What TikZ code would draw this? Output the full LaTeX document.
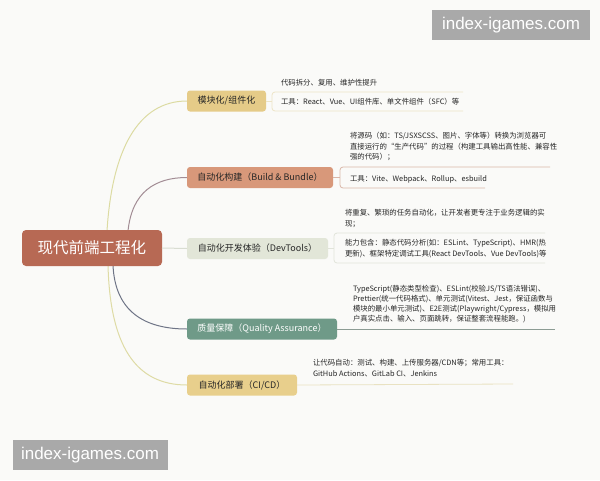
\documentclass[tikz,border=0pt]{standalone}
\usepackage{fontspec}
\setmainfont{Noto Sans CJK SC}
\newfontfamily\wmfont{Liberation Sans}
\usetikzlibrary{backgrounds}
\definecolor{bgc}{HTML}{FAFAF8}
\definecolor{cmain}{HTML}{B76954}
\definecolor{cb1}{HTML}{E5CB88}
\definecolor{cb2}{HTML}{D8987A}
\definecolor{cb3}{HTML}{E2E6D8}
\definecolor{cb4}{HTML}{6F9A88}
\definecolor{cb5}{HTML}{E8CF8C}
\definecolor{k1}{HTML}{DCDBA2}
\definecolor{k2}{HTML}{A28C94}
\definecolor{k3}{HTML}{D9DDD2}
\definecolor{k4}{HTML}{6E7486}
\definecolor{k5}{HTML}{DEDBA5}
\definecolor{l1}{HTML}{EDE4C6}
\definecolor{l2}{HTML}{D9B6A8}
\definecolor{l3}{HTML}{E1E4DA}
\definecolor{l4}{HTML}{8C9C94}
\definecolor{l5}{HTML}{E9E2C2}
\definecolor{txt}{HTML}{262626}
\definecolor{wmc}{HTML}{A9A9A9}
\begin{document}
\begin{tikzpicture}[x=1pt,y=-1pt,
  every node/.style={inner sep=0pt, outer sep=0pt},
  mainbox/.style={fill=cmain, rounded corners=4pt, minimum width=140pt, minimum height=36pt, text=white, font=\fontsize{15.5}{18}\selectfont},
  branchbox/.style={rounded corners=3pt, minimum height=21pt, anchor=west, text=txt, font=\fontsize{9}{11}\selectfont},
  detail/.style={anchor=west, text=txt, font=\fontsize{7.4}{10.5}\selectfont, align=left},
  detailm/.style={anchor=north west, text=txt, font=\fontsize{7.4}{10.8}\selectfont, align=left},
  curve/.style={line width=1pt},
  brk/.style={line width=0.8pt, rounded corners=3pt},
  wmbox/.style={fill=wmc, minimum height=30pt, text=white, font=\wmfont\fontsize{17}{20}\selectfont}
]
\useasboundingbox (0,0) rectangle (600,480);

% central node
\node[mainbox] (c) at (92,248) {现代前端工程化};

% branch boxes
\node[branchbox, fill=cb1, minimum width=79pt] (b1) at (187,101) {模块化/组件化};
\node[branchbox, fill=cb2, minimum width=146pt] (b2) at (187,177.5) {自动化构建（Build \& Bundle）};
\node[branchbox, fill=cb3, minimum width=141pt] (b3) at (187,248.5) {自动化开发体验（DevTools）};
\node[branchbox, fill=cb4, minimum width=150pt, text=white] (b4) at (187,329) {质量保障（Quality Assurance）};
\node[branchbox, fill=cb5, minimum width=110pt] (b5) at (187,385) {自动化部署（CI/CD）};

% curve start points on the central node
\coordinate (s1) at (107,231);
\coordinate (s2) at (128,231);
\coordinate (s4) at (113,265);
\coordinate (s5) at (108,265);

\begin{pgfonlayer}{background}
\fill[bgc] (0,0) rectangle (600,480);
\draw[curve, draw=k1] (s1) .. controls (112,150) and (138,101) .. (b1.west);
\draw[curve, draw=k2] (s2) .. controls (132,192) and (155,177.5) .. (b2.west);
\draw[curve, draw=k4] (s4) .. controls (115,312) and (145,329) .. (b4.west);
\draw[curve, draw=k5] (s5) .. controls (110,345) and (135,385) .. (b5.west);
\end{pgfonlayer}
\draw[curve, draw=k3] (c.east) -- (b3.west);

% branch 1 details
\coordinate (b1k) at (272,101);
\coordinate (b1t) at (463,92);
\coordinate (b1b) at (463,111);
\draw[brk, draw=l1] (b1.east) -- (b1k);
\draw[brk, draw=l1] (b1t) -- (272,92) -- (272,111) -- (b1b);
\node[detail] (t11) at (281,83) {代码拆分、复用、维护性提升};
\node[detail] (t12) at (281,102) {工具：React、Vue、UI组件库、单文件组件（SFC）等};

% branch 2 details
\coordinate (b2k) at (340,177.5);
\coordinate (b2t) at (550,167);
\coordinate (b2b) at (485,188);
\draw[brk, draw=l2] (b2.east) -- (b2k);
\draw[brk, draw=l2] (b2t) -- (340,167) -- (340,188) -- (b2b);
\node[detailm] (t21) at (350,132) {将源码（如：TS/JSXSCSS、图片、字体等）转换为浏览器可\\直接运行的“生产代码”的过程（构建工具输出高性能、兼容性\\强的代码）；};
\node[detail] (t22) at (350,179) {工具：Vite、Webpack、Rollup、esbuild};

% branch 3 details
\coordinate (b3k) at (334,248.5);
\coordinate (b3t) at (545,233);
\coordinate (b3b) at (545,263);
\draw[brk, draw=l3] (b3.east) -- (b3k);
\draw[brk, draw=l3] (b3t) -- (334,233) -- (334,263) -- (b3b);
\node[detailm] (t31) at (345,209.5) {将重复、繁琐的任务自动化，让开发者更专注于业务逻辑的实\\现；};
\node[detailm] (t32) at (345,239.5) {能力包含：静态代码分析(如：ESLint、TypeScript)、HMR(热\\更新)、框架特定调试工具(React DevTools、Vue DevTools)等};

% branch 4 details
\coordinate (b4e) at (555,329);
\draw[brk, draw=l4] (b4.east) -- (b4e);
\node[detailm, font=\fontsize{7.4}{9.8}\selectfont] (t41) at (353,285.5) {TypeScript(静态类型检查)、ESLint(校验JS/TS语法错误)、\\Prettier(统一代码格式)、单元测试(Vitest、Jest，保证函数与\\模块的最小单元测试)、E2E测试(Playwright/Cypress，模拟用\\户真实点击、输入、页面跳转，保证整套流程能跑。)};

% branch 5 details
\coordinate (b5e) at (513,384);
\draw[brk, draw=l5] (b5.east) -- (b5e);
\node[detailm] (t51) at (313,359.5) {让代码自动：测试、构建、上传服务器/CDN等；常用工具：\\GitHub Actions、GitLab CI、Jenkins};

% watermarks
\node[wmbox, minimum width=158pt] (w1) at (511,25) {index-igames.com};
\node[wmbox, minimum width=155pt] (w2) at (90,455) {index-igames.com};
\end{tikzpicture}
\end{document}
